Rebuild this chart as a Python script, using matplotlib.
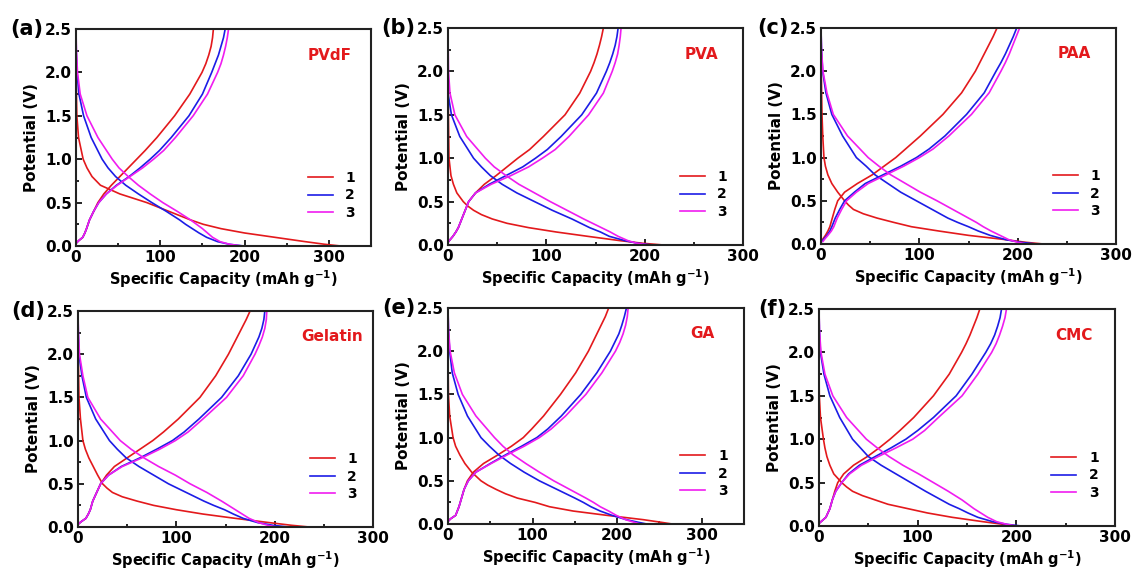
import matplotlib
matplotlib.use("Agg")
import matplotlib.pyplot as plt
from matplotlib.ticker import MultipleLocator

# voltage grids (V) for the discharge and charge branches
V_DIS = [2.5, 2.25, 2.0, 1.75, 1.5, 1.25, 1.0, 0.9, 0.8, 0.7, 0.6, 0.5, 0.45,
         0.4, 0.35, 0.3, 0.25, 0.2, 0.15, 0.1, 0.05, 0.02, 0.0]
V_CHG = [0.03, 0.06, 0.1, 0.15, 0.2, 0.3, 0.4, 0.5, 0.6, 0.7, 0.8, 0.9, 1.0,
         1.1, 1.25, 1.5, 1.75, 2.0, 2.1, 2.2, 2.3, 2.4, 2.5]

# capacities (mAh/g) read at those voltages, cycles 1,2,3
pvdf_dis = [[0, 0, 0.2, 0.5, 1, 3, 8.5, 13, 19, 29, 52, 84, 97, 110, 123, 136, 151, 172, 200, 236, 272, 295, 314],
            [0, 0.3, 1.2, 3.5, 9, 18, 31, 38, 47, 59, 74, 90, 98.5, 107, 115, 123, 130, 138, 146, 155, 168, 182, 199],
            [0, 0.5, 1.8, 5, 13, 26, 43, 51, 62, 74, 88, 103, 111.5, 120, 128, 136, 143, 150, 156, 162, 171, 182, 197]]
pvdf_chg = [[0, 3, 8, 10.5, 12.5, 16, 21, 26, 33, 42, 52, 62, 72, 82, 96, 117, 135, 149.5, 154, 157.5, 160.3, 162, 163],
            [0, 3, 8, 10.5, 12.5, 16, 21, 27, 36, 48, 63, 76, 88, 99, 113, 134, 150, 161, 165, 169, 172, 175, 177],
            [0, 3, 8, 10.5, 12.5, 16, 21, 27, 36, 49, 64, 79, 92, 104, 118, 139, 156, 168, 172, 175, 177.5, 179.5, 181]]

pva_dis = [[0, 0, 0, 0.2, 0.4, 0.7, 1, 2, 3, 5.5, 9, 15.5, 20, 26, 34, 45, 60, 82, 110, 142, 175, 198, 219],
           [0, 0, 0, 0, 3.5, 12, 26, 34, 43, 55, 70, 88, 97, 106, 116, 126, 135, 144, 155, 164, 180, 193, 208],
           [0, 0.2, 0.5, 2, 7, 19, 38, 47, 59, 72, 88, 104, 112.5, 121, 129.5, 138, 147, 156, 165, 173, 183, 192, 205]]
pva_chg = [[0, 2, 5, 8, 10.5, 14, 17.5, 21, 28, 37, 49, 60, 71, 83, 97, 119, 134, 145, 148.5, 151.5, 154, 156.2, 158],
           [0, 2, 5, 8, 10.5, 14, 17.5, 21, 28, 42, 59, 76, 89, 101, 115, 136, 151, 161, 164.5, 167.5, 170, 171.8, 173],
           [0, 2, 5, 8, 10.5, 14, 17.5, 21, 28, 44, 64, 82, 96, 109, 123, 143, 158, 167, 170, 172.5, 174, 175.2, 176]]

paa_dis = [[0, 0, 0.3, 0.6, 1, 1.8, 3, 4.5, 7, 11, 17, 24, 28, 33, 43, 57, 74, 92, 120, 150, 188, 208, 226],
           [0, 0.5, 1.7, 5, 11, 22, 36, 46, 55, 68, 81, 97, 105, 113, 121, 129, 139, 150, 160, 172, 188, 203, 219],
           [0, 0.5, 2, 6, 12.5, 27, 48, 59, 71, 86, 101, 118, 126, 134, 142, 150, 158, 165, 173, 182, 191, 200, 209]]
paa_chg = [[0, 2, 4.5, 7, 9, 11.5, 14, 17, 24, 37, 52, 64, 76, 86, 101, 124, 143, 157, 161.5, 166, 170.5, 175, 179],
           [1, 3, 6, 9, 11, 14.5, 19, 24, 34, 45, 63, 81, 97, 110, 126, 148, 166, 178, 183, 187.5, 191.5, 195.5, 199],
           [2, 4, 7, 10.5, 13, 16.5, 21, 26, 36, 48, 66, 84, 100, 114, 130, 153, 171, 183, 187.5, 191.5, 195, 198.5, 202]]

gelatin_dis = [[0, 0, 0.3, 0.6, 1, 2.5, 5, 7.5, 11, 15.5, 20, 25, 29.5, 35, 45, 60, 77, 100, 127, 160, 195, 217, 235],
               [0, 0.3, 1, 4, 8.5, 18, 32, 40, 49, 62, 77, 92, 101, 110, 119, 128, 138, 149, 158, 168, 183, 198, 214],
               [0, 0.4, 1.5, 5, 10, 23, 43, 54, 67, 82, 99, 114, 122.5, 131, 138.5, 146, 153, 160, 167, 174, 184, 193, 202]]
gelatin_chg = [[0, 3, 8, 10.5, 12.5, 15, 19, 23, 29, 37, 50, 63, 76, 87, 102, 124, 140, 153, 157.5, 162, 166.5, 171, 175],
               [0, 3, 8, 10.5, 12.5, 15, 19, 23, 31, 44, 63, 80, 96, 108, 123, 146, 163, 176, 180, 184, 187, 189, 190],
               [0, 3, 8, 10.5, 12.5, 15, 19, 23, 31, 45, 65, 83, 99, 112, 127, 151, 168, 180, 184, 187.5, 190, 191.5, 192]]

ga_dis = [[0, 0, 0, 0.2, 0.5, 2, 6, 9, 14, 20, 28, 39, 47, 57, 68, 82, 103, 120, 148, 188, 231, 252, 265],
          [0, 0.5, 2, 5, 12, 23, 39, 49, 60, 74, 90, 108, 118.5, 129, 139.5, 150, 160, 169, 180, 194, 211, 225, 235],
          [0, 0.6, 2.5, 7.5, 17, 33, 55, 65, 77, 92, 108, 125, 134.5, 144, 153.5, 163, 172, 180, 190, 199, 210, 220, 227]]
ga_chg = [[0, 3, 9, 11, 13, 16, 19, 23, 30, 42, 59, 75, 89, 99, 113, 133, 151, 166, 171, 176, 181, 186, 190],
          [0, 3, 9, 11, 13, 16, 19, 24, 33, 50, 68, 87, 105, 118, 134, 157, 176, 192, 197, 202, 205.5, 208.5, 211],
          [0, 3, 9, 11, 13, 16, 19, 24, 33, 51, 70, 90, 108, 122, 139, 163, 182, 198, 203, 207, 210, 212, 213]]

cmc_dis = [[0, 0, 0, 0, 0.3, 1.5, 4.5, 6, 8, 11, 15, 23, 28, 34, 44, 57, 70, 90, 110, 135, 166, 186, 200],
           [0, 0.4, 1.5, 5, 11, 21, 34, 42, 50, 63, 78, 93, 100.5, 108, 116, 124, 132, 142, 151, 161, 176, 190, 205],
           [0, 0.5, 2, 6, 14, 28, 48, 59, 71, 85, 101, 116, 123.5, 131, 138, 145, 151, 157, 164, 171, 180, 190, 200]]
cmc_chg = [[0, 3, 7, 9, 11, 13.5, 16, 19, 25, 35, 49, 61, 72, 82, 96, 116, 132, 144.5, 149, 153, 156.5, 160, 163],
           [0, 3, 7, 9, 11, 13.5, 17, 23, 30, 41, 57, 73, 88, 100, 116, 139, 155, 169, 174, 178, 181, 183.5, 185],
           [0, 3, 7, 9, 11, 13.5, 17, 23, 31, 43, 60, 78, 95, 107, 121, 145, 161, 175, 179.5, 183, 186, 188.5, 190]]

binders = ["PVdF", "PVA", "PAA", "Gelatin", "GA", "CMC"]
letters = ["(a)", "(b)", "(c)", "(d)", "(e)", "(f)"]
dis_data = [pvdf_dis, pva_dis, paa_dis, gelatin_dis, ga_dis, cmc_dis]
chg_data = [pvdf_chg, pva_chg, paa_chg, gelatin_chg, ga_chg, cmc_chg]
xmax = [350, 300, 300, 300, 350, 300]
cycles = ["1", "2", "3"]
colors = ["#e3191c", "#1c1ce6", "#f01cf0"]

W, H = 1133, 583
# axes boxes in pixels: left, top, right, bottom
boxes = [(76, 29, 371, 246), (448, 28, 743, 245), (821, 28, 1116, 244),
         (78, 311, 373, 527), (448, 308, 744, 524), (819, 309, 1115, 526)]

fig = plt.figure(figsize=(W / 100, H / 100), dpi=100)

for i in range(6):
    l, t, r, b = boxes[i]
    ax = fig.add_axes([l / W, 1 - b / H, (r - l) / W, (b - t) / H])
    for k in range(3):
        ax.plot(dis_data[i][k], V_DIS, color=colors[k], lw=1.2, label=cycles[k])
        ax.plot(chg_data[i][k], V_CHG, color=colors[k], lw=1.2)
    ax.set_xlim(0, xmax[i])
    ax.set_ylim(0, 2.5)
    ax.xaxis.set_major_locator(MultipleLocator(100))
    ax.xaxis.set_minor_locator(MultipleLocator(50))
    ax.yaxis.set_major_locator(MultipleLocator(0.5))
    ax.yaxis.set_minor_locator(MultipleLocator(0.25))
    ax.yaxis.set_major_formatter(plt.FormatStrFormatter("%.1f"))
    ax.tick_params(which="both", direction="in", width=1.2)
    ax.tick_params(which="major", length=4, labelsize=11, pad=3)
    ax.tick_params(which="minor", length=2.5)
    for lab in ax.get_xticklabels() + ax.get_yticklabels():
        lab.set_fontweight("bold")
    for sp in ax.spines.values():
        sp.set_linewidth(1.5)
        sp.set_color("#222222")
    ax.set_xlabel("Specific Capacity (mAh g$^{\\mathbf{-1}}$)", fontsize=10.5,
                  fontweight="bold", labelpad=2)
    ax.set_ylabel("Potential (V)", fontsize=11, fontweight="bold", labelpad=4)
    ax.text(0.86, 0.88, binders[i], transform=ax.transAxes, color="#e3191c",
            fontsize=11, fontweight="bold", ha="center", va="center")
    ax.text(-0.11, 1.0, letters[i], transform=ax.transAxes, fontsize=15,
            fontweight="bold", ha="right", va="center")
    leg = ax.legend(loc="lower right", bbox_to_anchor=(0.945, 0.12), frameon=False,
                    fontsize=10, handlelength=1.8, handletextpad=0.9,
                    labelspacing=0.25, borderaxespad=0, borderpad=0)
    for txt in leg.get_texts():
        txt.set_fontweight("bold")

fig.savefig("out.png", dpi=100)
